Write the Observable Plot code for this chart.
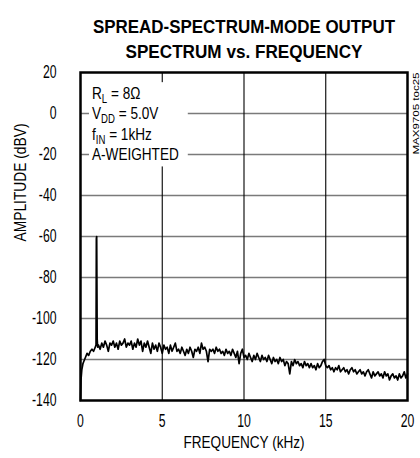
<!DOCTYPE html>
<html>
<head>
<meta charset="utf-8">
<script src="https://cdn.jsdelivr.net/npm/d3@7"></script>
<script src="https://cdn.jsdelivr.net/npm/@observablehq/plot@0.6"></script>
<style>
  html, body { margin: 0; padding: 0; background: #fff; }
</style>
</head>
<body>
<div id="chart"></div>
<script>
// ---- data ----
const titleLines = ["SPREAD-SPECTRUM-MODE OUTPUT", "SPECTRUM vs. FREQUENCY"];
const xLabel = "FREQUENCY (kHz)";
const yLabel = "AMPLITUDE (dBV)";
const xTicks = [0, 5, 10, 15, 20];
const yTicks = [20, 0, -20, -40, -60, -80, -100, -120, -140];
const noteLines = [
  { main: "R", sub: "L", rest: " = 8\u03A9" },
  { main: "V", sub: "DD", rest: " = 5.0V" },
  { main: "f", sub: "IN", rest: " = 1kHz" },
  { main: "A-WEIGHTED", sub: "", rest: "" }
];
const noteLevels = [10, 0, -10, -20];
const tocLabel = "MAX9705 toc25";

// low-frequency rise and the 1 kHz tone
const lowFreq = [0, 0.03, 0.08, 0.15, 0.2, 0.3, 0.4, 0.5, 0.6, 0.7, 0.8, 0.9, 0.95, 0.97, 0.99, 1.02, 1.05];
const lowAmp  = [-140, -130, -125, -122, -121, -119, -117, -118, -116, -115, -116, -114, -113, -61, -60, -110, -114];

// noise floor, 0.1 kHz bins from 1.1 kHz to 20 kHz
const noiseStart = 1.1, noiseStep = 0.1;
const noiseAmp = [
  -113, -115, -112, -114, -111, -113, -116, -112, -113, -111,
  -114, -112, -115, -111, -113, -112, -110, -114, -112, -113,
  -111, -115, -112, -114, -110, -113, -111, -116, -112, -114,
  -111, -114, -117, -112, -115, -113, -116, -112, -114, -117,
  -113, -115, -114, -117, -113, -116, -114, -112, -116, -115,
  -117, -114, -116, -118, -115, -117, -114, -116, -119, -115,
  -116, -114, -117, -112, -115, -114, -116, -121, -115, -116,
  -115, -117, -114, -116, -115, -117, -116, -118, -115, -117,
  -116, -118, -115, -117, -119, -116, -122, -117, -115, -119,
  -118, -120, -117, -119, -121, -118, -120, -117, -119, -121,
  -118, -120, -119, -121, -118, -120, -122, -119, -121, -120,
  -122, -119, -121, -120, -123, -121, -122, -127, -121, -123,
  -120, -122, -121, -123, -122, -124, -121, -123, -122, -124,
  -122, -124, -123, -125, -122, -124, -123, -121, -120, -123,
  -124, -123, -125, -124, -126, -124, -125, -123, -126, -125,
  -124, -126, -125, -127, -125, -124, -126, -125, -127, -126,
  -125, -127, -126, -128, -126, -125, -127, -129, -126, -128,
  -127, -126, -128, -127, -129, -126, -128, -127, -130, -128,
  -127, -129, -128, -130, -127, -129, -128, -126, -129, -127
];

const data = lowFreq.map((f, i) => ({ f, a: lowAmp[i] }))
  .concat(noiseAmp.map((a, i) => ({ f: +(noiseStart + i * noiseStep).toFixed(2), a })));

const FONT = "'Liberation Sans Narrow', 'Liberation Sans', Arial, sans-serif";

const plot = Plot.plot({
  width: 420,
  height: 458,
  marginLeft: 80,
  marginRight: 13,
  marginTop: 72,
  marginBottom: 58,
  style: { fontFamily: FONT, fontSize: "18px", background: "#fff", color: "#000" },
  x: { domain: [0, 20] },
  y: { domain: [-140, 20] },
  marks: [
    Plot.ruleY(yTicks.slice(1, -1), { stroke: "#7a7a7a", strokeWidth: 1.5 }),
    Plot.ruleX(xTicks.slice(1, -1), { stroke: "#000", strokeWidth: 1.1 }),
    Plot.line(data, { x: "f", y: "a", stroke: "#000", strokeWidth: 1.7, strokeLinejoin: "round" }),
    Plot.frame({ stroke: "#000", strokeWidth: 2.5 }),
    Plot.axisX({ ticks: xTicks, tickSize: 0, tickPadding: 14, label: null, fontSize: 18, tickFormat: d => String(d) }),
    Plot.axisY({ ticks: yTicks, tickSize: 0, tickPadding: 24, label: null, fontSize: 18, tickFormat: d => String(d) }),
    Plot.text([xLabel], { frameAnchor: "bottom", dy: 47, fontSize: 17 }),
    Plot.text([yLabel], { frameAnchor: "left", dx: -60, dy: 5, rotate: -90, fontSize: 17 }),
    Plot.text([titleLines[0]], { frameAnchor: "top", dy: -52, fontSize: 18, fontWeight: "bold" }),
    Plot.text([titleLines[1]], { frameAnchor: "top", dy: -27, fontSize: 18, fontWeight: "bold" }),
    Plot.text([tocLabel], { frameAnchor: "top-right", dx: 5, dy: 0, rotate: -90, textAnchor: "end", fontSize: 9 })
  ]
});

document.getElementById("chart").appendChild(plot);

const svg = d3.select(plot);

// emulate the condensed type of the original
function squeezeTo(node, target) {
  node.setAttribute("textLength", target);
  node.setAttribute("lengthAdjust", "spacingAndGlyphs");
}
const targets = new Map([
  [titleLines[0], 302], [titleLines[1], 237],
  [xLabel, 121], [yLabel, 118], [tocLabel, 82]
]);
svg.selectAll("text").each(function () {
  const s = this.textContent;
  if (targets.has(s)) squeezeTo(this, targets.get(s));
});
svg.selectAll("g[aria-label$='tick label'] text").each(function () {
  squeezeTo(this, this.getComputedTextLength() * 0.68);
});

// ---- condition note with subscripts, on a white box over the grid ----
const xs = plot.scale("x"), ys = plot.scale("y");
const x0 = xs.apply(0) + 12;
const f = 0.8;
const g = svg.append("g")
  .attr("font-family", FONT).attr("font-size", 17).attr("fill", "#000")
  .attr("text-anchor", "start")
  .attr("transform", `translate(${x0},0) scale(${f},1) translate(${-x0},0)`);
noteLines.forEach((ln, i) => {
  const t = g.append("text")
    .attr("x", x0)
    .attr("y", ys.apply(noteLevels[i]))
    .attr("dy", "0.36em");
  t.append("tspan").text(ln.main);
  if (ln.sub) {
    t.append("tspan").attr("font-size", 12).attr("dy", 4).text(ln.sub);
    t.append("tspan").attr("dy", -4).text(ln.rest);
  }
});
const bb = g.node().getBBox();
g.insert("rect", ":first-child")
  .attr("x", bb.x - 3 / f)
  .attr("y", bb.y - 1)
  .attr("width", bb.width + 12 / f)
  .attr("height", bb.height + 4)
  .attr("fill", "#fff");
</script>
</body>
</html>
